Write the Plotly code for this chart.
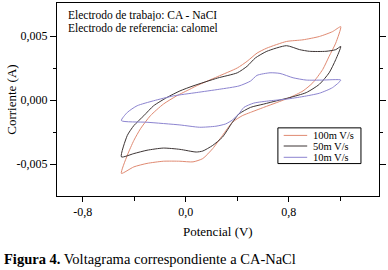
import plotly.graph_objects as go

# ---- data ----
series_names = ["100m V/s", "50m V/s", "10m V/s"]

v_100 = [-0.500, -0.454, -0.403, -0.352, -0.275, -0.174, -0.072, 0.031, 0.081, 0.247, 0.400, 0.476,
         0.553, 0.629, 0.782, 0.910, 1.037, 1.139, 1.203,
         1.164, 1.113, 1.063, 0.986, 0.910, 0.807, 0.706, 0.604, 0.502, 0.438, 0.362, 0.285,
         0.209, 0.132, 0.056, -0.046, -0.174, -0.301, -0.403, -0.500]
i_100 = [-5.73, -4.31, -3.15, -2.24, -1.22, -0.31, 0.33, 0.85, 1.11, 1.84, 2.52, 3.04,
         3.68, 4.07, 4.59, 4.72, 4.98, 5.36, 5.75,
         4.46, 3.43, 2.40, 1.36, 0.72, 0.20, -0.19, -0.57, -0.96, -1.22, -1.73, -2.76,
         -3.79, -4.57, -4.83, -4.78, -4.78, -4.95, -5.22, -5.73]

v_50 = [-0.500, -0.454, -0.403, -0.326, -0.250, -0.148, -0.046, 0.056, 0.247, 0.400, 0.476, 0.540,
        0.629, 0.782, 0.884, 0.960, 1.088, 1.164, 1.203,
        1.164, 1.113, 1.037, 0.935, 0.807, 0.706, 0.604, 0.502, 0.413, 0.362, 0.285, 0.209,
        0.132, 0.081, -0.046, -0.174, -0.301, -0.403, -0.500]
i_50 = [-4.44, -2.76, -1.99, -1.22, -0.44, 0.20, 0.72, 1.11, 1.73, 2.14, 2.65, 3.30,
        3.82, 4.26, 3.95, 3.82, 3.82, 3.95, 4.20,
        3.17, 2.14, 1.24, 0.59, 0.20, -0.05, -0.31, -0.57, -1.08, -1.73, -2.89, -3.54,
        -3.98, -4.06, -3.85, -3.75, -3.92, -4.18, -4.44]

v_10 = [-0.500, -0.454, -0.378, -0.250, -0.097, 0.081, 0.260, 0.413, 0.502, 0.553, 0.654, 0.731,
        0.833, 0.935, 1.063, 1.203,
        1.139, 1.037, 0.910, 0.782, 0.654, 0.528, 0.451, 0.413, 0.362, 0.310, 0.234, 0.107,
        -0.046, -0.301, -0.500]
i_10 = [-1.60, -0.96, -0.44, -0.05, 0.33, 0.59, 0.85, 1.11, 1.49, 1.94, 2.14, 2.09,
        1.75, 1.57, 1.57, 1.57,
        0.98, 0.54, 0.28, 0.08, -0.05, -0.23, -0.57, -1.06, -1.55, -1.86, -2.04, -2.12,
        -1.94, -1.73, -1.60]

x_tick_vals = [-0.8, 0.0, 0.8]
x_tick_text = ["-0,8", "0,0", "0,8"]
y_tick_vals = [-0.005, 0.0, 0.005]
y_tick_text = ["-0,005", "0,000", "0,005"]

info_lines = ["Electrodo de trabajo: CA - NaCI", "Electrodo de referencia: calomel"]
x_title = "Potencial (V)"
y_title = "Corriente (A)"
caption_bold = "Figura 4."
caption_text = " Voltagrama correspondiente a CA-NaCl"

colors = ["#E08A72", "#3C3434", "#8C84D0"]
FONT = "Liberation Serif, Times New Roman, DejaVu Serif, serif"

volts = [v_100, v_50, v_10]
currents_ma = [i_100, i_50, i_10]

fig = go.Figure()
for name, v, i_ma, c in zip(series_names, volts, currents_ma, colors):
    fig.add_trace(go.Scatter(
        x=v, y=[val / 1000.0 for val in i_ma], mode="lines", name=name,
        line=dict(color=c, width=1, shape="spline", smoothing=0.6),
        showlegend=False,
    ))

fig.update_layout(
    width=388, height=270,
    margin=dict(l=57, r=5, t=2, b=74),
    paper_bgcolor="white", plot_bgcolor="white",
    font=dict(family=FONT, size=12, color="black"),
    showlegend=False,
)
fig.update_xaxes(
    range=[-1.0, 1.5], showgrid=False, zeroline=False,
    showline=True, linecolor="black", linewidth=1, mirror=True,
    ticks="outside", ticklen=5, tickcolor="black",
    tickmode="array", tickvals=x_tick_vals, ticktext=x_tick_text,
    minor=dict(tickmode="array", tickvals=[-0.4, 0.4, 1.2], ticks="outside", ticklen=4, tickcolor="black"),
    tickfont=dict(family=FONT, size=12),
)
fig.update_yaxes(
    range=[-0.0075, 0.0076], showgrid=False, zeroline=False,
    showline=True, linecolor="black", linewidth=1, mirror="ticks",
    ticks="outside", ticklen=6, tickcolor="black",
    tickmode="array", tickvals=y_tick_vals, ticktext=y_tick_text,
    minor=dict(tickmode="array", tickvals=[-0.0025, 0.0025], ticks="outside", ticklen=3, tickcolor="black"),
    tickfont=dict(family=FONT, size=12),
)

# axis titles placed as in the original
fig.add_annotation(
    x=0.5, y=-0.185, xref="paper", yref="paper", xanchor="center", yanchor="middle",
    text=x_title, showarrow=False, font=dict(family=FONT, size=13, color="black"),
)
fig.add_annotation(
    x=-0.142, y=0.5, xref="paper", yref="paper", xanchor="center", yanchor="middle",
    text=y_title, textangle=-90, showarrow=False, font=dict(family=FONT, size=13, color="black"),
)

# info text
info_y = [0.938, 0.871]
for line, yy in zip(info_lines, info_y):
    fig.add_annotation(
        x=0.029, y=yy, xref="paper", yref="paper",
        xanchor="left", yanchor="middle", text=line, showarrow=False, height=12,
        font=dict(family=FONT, size=11.5, color="black"),
    )

# legend box (drawn manually to match the compact original)
fig.add_shape(type="rect", xref="paper", yref="paper", x0=0.686, x1=0.944, y0=0.168, y1=0.353,
              line=dict(color="black", width=1), fillcolor="white", layer="above")
legend_y = [0.314, 0.259, 0.2005]
for name, c, yy in zip(series_names, colors, legend_y):
    fig.add_shape(type="line", xref="paper", yref="paper", x0=0.704, x1=0.777, y0=yy, y1=yy,
                  line=dict(color=c, width=1), layer="above")
    fig.add_annotation(x=0.790, y=yy, xref="paper", yref="paper", xanchor="left", yanchor="middle",
                       text=name, showarrow=False, height=11,
                       font=dict(family=FONT, size=10.5, color="black"))

# caption
fig.add_annotation(
    x=-0.1706, y=-0.329, xref="paper", yref="paper", xanchor="left", yanchor="middle",
    text="<b>" + caption_bold + "</b>" + caption_text, showarrow=False,
    font=dict(family=FONT, size=14.5, color="black"),
)

fig.write_html("out.html", config={"displayModeBar": False},
               post_script="document.body.style.margin='0';")
